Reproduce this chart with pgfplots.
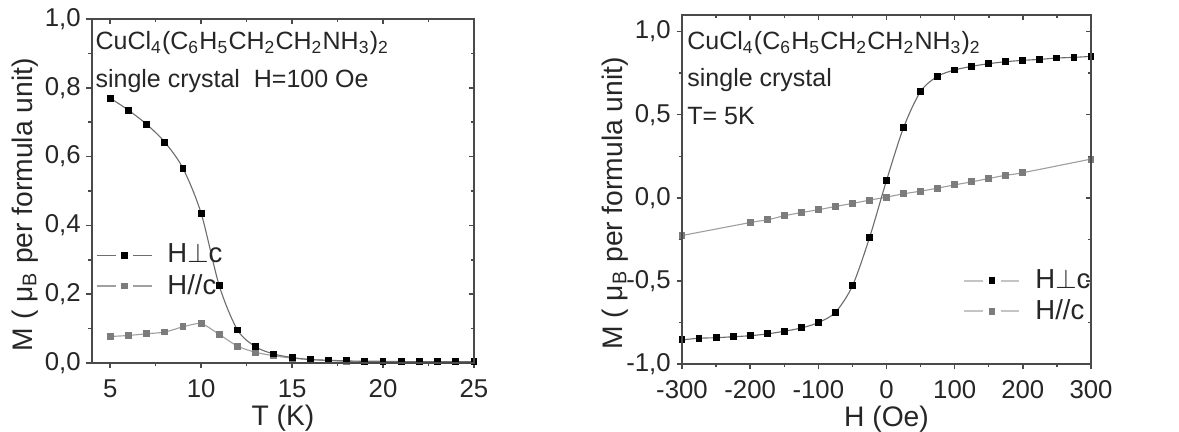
\documentclass[border=0pt]{standalone}
\usepackage{fontspec}
\setmainfont{Liberation Sans}
\usepackage{pgfplots}
\pgfplotsset{compat=1.18}

\definecolor{axgray}{HTML}{4A4A4A}
\definecolor{txt}{HTML}{262626}
\definecolor{lineblk}{HTML}{6E6E6E}
\definecolor{mgray}{HTML}{7C7C7C}
\definecolor{linegry}{HTML}{A0A0A0}
\definecolor{leggray}{HTML}{C4C4C4}

% left panel: M(T), H=100 Oe
\pgfplotstableread{
T M
5 0.770
6 0.735
7 0.694
8 0.642
9 0.566
10 0.435
11 0.224
12 0.096
13 0.047
14 0.026
15 0.016
16 0.010
17 0.008
18 0.006
19 0.005
20 0.005
21 0.004
22 0.004
23 0.004
24 0.004
25 0.004
}\tperp
\pgfplotstableread{
T M
5 0.077
6 0.080
7 0.085
8 0.090
9 0.105
10 0.114
11 0.083
12 0.049
13 0.031
14 0.021
15 0.014
16 0.010
17 0.007
18 0.005
19 0.004
20 0.004
21 0.003
22 0.003
23 0.003
24 0.003
25 0.003
}\tpar
% right panel: M(H), T=5 K
\pgfplotstableread{
H M
-300 -0.855
-275 -0.845
-250 -0.842
-225 -0.836
-200 -0.830
-175 -0.819
-150 -0.803
-125 -0.783
-100 -0.751
-75 -0.689
-50 -0.530
-25 -0.241
0 0.104
25 0.422
50 0.640
75 0.731
100 0.769
125 0.791
150 0.807
175 0.819
200 0.827
225 0.833
250 0.841
275 0.845
300 0.851
}\hperp
\pgfplotstableread{
H M
-300 -0.227
-200 -0.149
-175 -0.133
-150 -0.108
-125 -0.089
-100 -0.072
-75 -0.052
-50 -0.034
-25 -0.014
0 0.004
25 0.024
50 0.040
75 0.058
100 0.078
125 0.096
150 0.116
175 0.136
200 0.151
300 0.233
}\hpar

\tikzset{intext/.style={anchor=base west, inner sep=0pt, font=\fontsize{10}{12}\selectfont, text=txt}}

\pgfplotsset{
  base/.style={
    scale only axis, anchor=south west,
    axis line style={axgray, line width=0.7pt},
    every tick/.style={axgray, line width=0.6pt},
    major tick length=2.2pt, minor tick length=1.4pt,
    tick label style={font=\fontsize{10.3}{12}\selectfont, text=txt},
    /pgf/number format/assume math mode=true,
    yticklabel style={/pgf/number format/fixed, /pgf/number format/fixed zerofill,
      /pgf/number format/precision=1, /pgf/number format/use comma},
    xticklabel style={/pgf/number format/fixed, /pgf/number format/precision=0},
  },
  outer/.style={base, tick align=outside, xtick pos=left, ytick pos=left,
    label style={font=\fontsize{11.3}{13}\selectfont, text=txt},
    xlabel style={at={(axis description cs:0.5,0)}, anchor=center, yshift=-22pt},
    ylabel style={at={([xshift=-26.8pt]axis description cs:0,0.46)}, anchor=center},
    xticklabel style={yshift=-1pt}, yticklabel style={xshift=1.2pt},
    legend style={draw=none, fill=none, font=\fontsize{11}{13}\selectfont, text=txt,
      inner sep=0pt, row sep=-1pt, anchor=north west,
      /tikz/every odd column/.append style={column sep=4pt}},
    legend cell align=left,
  },
  inner/.style={base, tick align=inside, xtick pos=right, ytick pos=right,
    xticklabels={}, yticklabels={}},
  blk/.style={color=lineblk, line width=0.45pt, smooth, tension=0.5,
    mark=square*, mark size=1.15pt, mark options={draw=black, fill=black, solid}},
  gry/.style={color=linegry, line width=0.45pt, smooth, tension=0.5,
    mark=square*, mark size=1.15pt, mark options={draw=mgray, fill=mgray, solid}},
}

\begin{document}
\begin{tikzpicture}
\useasboundingbox (0,0) rectangle (471.6pt,172.8pt);

% ---- left panel ----
\begin{axis}[outer, at={(36.8pt,27.6pt)}, width=152.8pt, height=137.6pt,
  xmin=4, xmax=25, ymin=0, ymax=1.0,
  xtick={5,10,15,20,25}, minor x tick num=1,
  ytick={0,0.2,0.4,0.6,0.8,1.0}, minor y tick num=1,
  xlabel={T (K)}, ylabel={M ( μ\textsubscript{B} per formula unit)},
  legend style={at={(axis description cs:0.01,0.362)}},
  legend image code/.code={
    \draw[#1,mark=none] (0pt,0pt) -- (7.5pt,0pt) (14.5pt,0pt) -- (22pt,0pt);
    \draw[#1] plot coordinates {(11pt,0pt)};},
  reverse legend,
]
\addplot[gry] table[x=T,y=M] {\tpar};
\addlegendentry{H//c}
\addplot[blk] table[x=T,y=M] {\tperp};
\addlegendentry{H$\perp$c}
\node[intext] at (rel axis cs:0.008,0.91)
  {CuCl\textsubscript{4}(C\textsubscript{6}H\textsubscript{5}CH\textsubscript{2}CH\textsubscript{2}NH\textsubscript{3})\textsubscript{2}};
\node[intext] at (rel axis cs:0.008,0.80)
  {single crystal\ \ H=100 Oe};
\end{axis}
\begin{axis}[inner, at={(36.8pt,27.6pt)}, width=152.8pt, height=137.6pt,
  xmin=4, xmax=25, ymin=0, ymax=1.0,
  xtick={5,10,15,20,25}, minor x tick num=1,
  ytick={0,0.2,0.4,0.6,0.8,1.0}, minor y tick num=1]
\end{axis}

% ---- right panel ----
\begin{axis}[outer, at={(272.8pt,27.2pt)}, width=163.6pt, height=139.6pt,
  xmin=-300, xmax=300, ymin=-1.0, ymax=1.1,
  xtick={-300,-200,-100,0,100,200,300}, minor x tick num=1,
  ytick={-1,-0.5,0,0.5,1}, minor y tick num=1,
  xlabel={H (Oe)}, ylabel={M ( μ\textsubscript{B} per formula unit)},
  legend style={at={(axis description cs:0.687,0.287)}},
  legend image code/.code={
    \draw[#1,mark=none,leggray,line width=0.8pt] (0pt,0pt) -- (7.5pt,0pt) (14.5pt,0pt) -- (22pt,0pt);
    \draw[#1] plot coordinates {(11pt,0pt)};},
  reverse legend,
]
\addplot[gry] table[x=H,y=M] {\hpar};
\addlegendentry{H//c}
\addplot[blk] table[x=H,y=M] {\hperp};
\addlegendentry{H$\perp$c}
\node[intext] at (rel axis cs:0.012,0.90)
  {CuCl\textsubscript{4}(C\textsubscript{6}H\textsubscript{5}CH\textsubscript{2}CH\textsubscript{2}NH\textsubscript{3})\textsubscript{2}};
\node[intext] at (rel axis cs:0.012,0.794)
  {single crystal};
\node[intext] at (rel axis cs:0.012,0.685)
  {T= 5K};
\end{axis}
\begin{axis}[inner, at={(272.8pt,27.2pt)}, width=163.6pt, height=139.6pt,
  xmin=-300, xmax=300, ymin=-1.0, ymax=1.1,
  xtick={-300,-200,-100,0,100,200,300}, minor x tick num=1,
  ytick={-1,-0.5,0,0.5,1}, minor y tick num=1]
\end{axis}
\end{tikzpicture}
\end{document}
